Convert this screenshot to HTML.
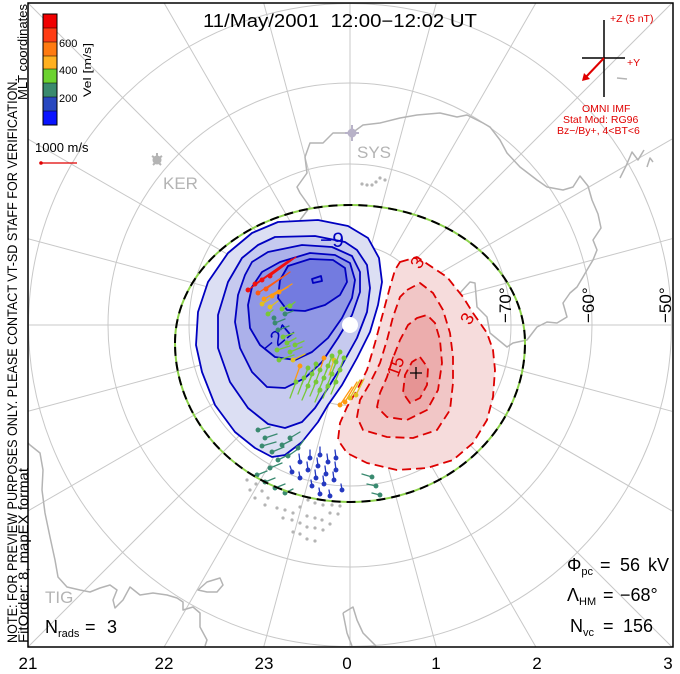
<!DOCTYPE html>
<html><head><meta charset="utf-8"><style>
html,body{margin:0;padding:0;background:#fff;width:680px;height:674px;overflow:hidden;}
svg{display:block;font-family:"Liberation Sans",sans-serif;overflow:hidden;}
</style></head><body>
<svg width="680" height="674" viewBox="0 0 680 674" xmlns="http://www.w3.org/2000/svg">
<defs><clipPath id="fr"><rect x="28" y="3" width="645" height="644"/></clipPath></defs>
<rect width="680" height="674" fill="#fff"/>
<g clip-path="url(#fr)">
<!-- grid -->
<g fill="none" stroke="#c8c8c8" stroke-width="1">
<circle cx="350" cy="325" r="80.5"/><circle cx="350" cy="325" r="161"/><circle cx="350" cy="325" r="242"/><circle cx="350" cy="325" r="321.5"/>
<path d="M350,405.5L350,647M350,244.5L350,3M430.5,325L672,325M269.5,325L28,325
M370.8,402.8L436.3,647M390.3,394.7L535.9,647M406.9,381.9L672,647M419.7,365.3L672,510.9M427.8,345.8L672,411.3
M329.2,402.8L263.7,647M309.7,394.7L164.1,647M293.1,381.9L28,647M280.3,365.3L28,510.9M272.2,345.8L28,411.3
M370.8,247.2L436.3,3M390.3,255.3L535.9,3M406.9,268.1L672,3M419.7,284.7L672,139.1M427.8,304.2L672,238.7
M329.2,247.2L263.7,3M309.7,255.3L164.1,3M293.1,268.1L28,3M280.3,284.7L28,139.1M272.2,304.2L28,238.7"/>
</g>
<!-- coastlines -->
<g fill="none" stroke="#b4b4b4" stroke-width="1.5" stroke-linejoin="round">
<path d="M300,220L310,207L300,193L297,187L307,173L305,157L310,143L323,143L333,133L352,133L363,125L380,123L400,118L417,115L440,113L457,117L467,115L483,123L490,127L500,140L507,153L520,167L537,180L547,187L563,190L573,187L580,176L588,186L592,200L598,214L601,228L593,240L597,250L593,260L587,270L583,277L577,287L570,293L563,303L567,317L557,323L547,322L537,327L527,340L513,343L507,347L490,333L487,317L477,307L475,283L470,282L460,293L452,300"/>
<path d="M620,178L626,166L632,152L638,160L644,150"/><path d="M647,167L650,158L653,162"/><path d="M617,78L627,79"/>
<path d="M28,443L30,445L40,453L43,470L42,490L45,513L50,537L55,560L58,577L67,587L80,590L90,592L100,588L110,585L117,590L113,600L115,608L123,600L130,587L140,595L153,593L167,595L177,598L183,602L183,610L193,607L200,613L200,627L207,640L205,646"/>
<path d="M198,590L207,582L220,578L223,585L217,592L207,592Z"/>
<path d="M343,613L353,607L357,620L363,633L373,643L376,646M343,613L347,633L352,646"/>
</g>
<!-- stations -->
<g fill="#b4b4b4"><circle cx="157" cy="160" r="4.5"/><path d="M152,156l3,2M162,156l-3,2M157,153v4M153,165l3,-3M161,165l-3,-3" stroke="#b4b4b4" stroke-width="2"/></g>
<g fill="#b8b2c8"><circle cx="352" cy="133" r="4.5"/><path d="M352,125v16M345,133h14" stroke="#b8b2c8" stroke-width="2"/></g>
<!-- red cell -->
<polygon fill="#f6dcdc" points="400,262 417,257 447,277 463,297 473,313 487,333 493,350 495,370 493,397 487,420 473,443 453,460 427,468 397,470 367,463 347,453 338,440 340,423 347,407 357,390 367,370 375,343 383,313 390,287 395,270"/>
<polygon fill="#f1c6c6" points="407,290 420,283 433,293 443,310 450,333 453,357 453,383 450,410 437,430 413,438 387,437 363,430 357,417 360,400 370,383 380,363 387,340 393,317 400,297"/>
<polygon fill="#ecadad" points="417,318 427,315 435,323 440,340 442,363 438,390 427,410 407,420 387,417 377,407 380,393 387,377 393,358 400,340 408,325"/>
<polygon fill="#e69494" points="420,357 428,368 427,385 420,398 410,403 403,393 405,375 412,362"/>
<g fill="none" stroke="#dd0000" stroke-width="1.8" stroke-dasharray="9,5" stroke-linejoin="round">
<polygon points="400,262 417,257 447,277 463,297 473,313 487,333 493,350 495,370 493,397 487,420 473,443 453,460 427,468 397,470 367,463 347,453 338,440 340,423 347,407 357,390 367,370 375,343 383,313 390,287 395,270"/>
<polygon points="407,290 420,283 433,293 443,310 450,333 453,357 453,383 450,410 437,430 413,438 387,437 363,430 357,417 360,400 370,383 380,363 387,340 393,317 400,297"/>
<polygon points="417,318 427,315 435,323 440,340 442,363 438,390 427,410 407,420 387,417 377,407 380,393 387,377 393,358 400,340 408,325"/>
<polygon points="420,357 428,368 427,385 420,398 410,403 403,393 405,375 412,362"/>
</g>
<g fill="#dd0000" font-size="18">
<text transform="translate(420,270) rotate(-60)">3</text>
<text transform="translate(470,326) rotate(-60)">3</text>
<text transform="translate(398,378) rotate(-70)">15</text>
</g>
<path d="M410,373h12M416,367v12" stroke="#000" stroke-width="1.3"/>
<!-- blue cell -->
<polygon fill="#dcdff3" points="278,222 318,220 348,226 368,238 379,258 382,282 378,305 370,332 357,358 342,385 328,405 318,422 302,442 285,455 272,457 255,448 235,432 215,405 202,372 196,345 198,312 208,282 228,253 252,233"/>
<polygon fill="#c6caef" points="258,245 275,237 315,236 345,242 357,250 367,265 370,288 367,312 357,338 342,365 328,388 315,408 302,422 285,428 268,424 248,408 230,382 218,348 218,315 228,282 242,258"/>
<polygon fill="#acb1ea" points="252,262 268,252 302,245 332,247 352,256 360,272 360,292 352,315 338,338 322,362 305,378 285,388 267,387 252,372 240,348 235,322 238,295 245,275"/>
<polygon fill="#9097e5" points="262,272 280,262 310,253 335,255 350,263 355,280 352,298 342,318 328,338 312,352 295,360 275,357 260,345 250,328 248,305 252,287"/>
<polygon fill="#737be0" points="288,266 310,259 333,260 345,268 347,282 340,295 325,305 305,311 287,310 278,298 280,280"/>
<g fill="none" stroke="#0000c0" stroke-width="1.8" stroke-linejoin="round">
<polygon points="278,222 318,220 348,226 368,238 379,258 382,282 378,305 370,332 357,358 342,385 328,405 318,422 302,442 285,455 272,457 255,448 235,432 215,405 202,372 196,345 198,312 208,282 228,253 252,233"/>
<polygon points="258,245 275,237 315,236 345,242 357,250 367,265 370,288 367,312 357,338 342,365 328,388 315,408 302,422 285,428 268,424 248,408 230,382 218,348 218,315 228,282 242,258"/>
<polygon points="252,262 268,252 302,245 332,247 352,256 360,272 360,292 352,315 338,338 322,362 305,378 285,388 267,387 252,372 240,348 235,322 238,295 245,275"/>
<polygon points="262,272 280,262 310,253 335,255 350,263 355,280 352,298 342,318 328,338 312,352 295,360 275,357 260,345 250,328 248,305 252,287"/>
<polygon points="288,266 310,259 333,260 345,268 347,282 340,295 325,305 305,311 287,310 278,298 280,280"/>
<path d="M312,279l9,-3l1,5l-9,2z"/>
</g>
<g fill="#0000c0" font-size="21">
<text x="320" y="247">−9</text>
<text transform="translate(268,355) rotate(-40)">−21</text>
</g>
<circle cx="350" cy="325" r="8" fill="#fff"/>
<!-- gray dots -->
<g fill="#b4b4b4">
<circle cx="247" cy="480" r="1.6"/><circle cx="256" cy="484" r="1.6"/><circle cx="250" cy="490" r="1.6"/><circle cx="262" cy="491" r="1.6"/><circle cx="255" cy="498" r="1.6"/><circle cx="268" cy="498" r="1.6"/>
<circle cx="265" cy="505" r="1.6"/><circle cx="277" cy="508" r="1.6"/><circle cx="285" cy="510" r="1.6"/><circle cx="293" cy="513" r="1.6"/><circle cx="300" cy="507" r="1.6"/><circle cx="308" cy="500" r="1.6"/><circle cx="315" cy="503" r="1.6"/><circle cx="323" cy="505" r="1.6"/><circle cx="332" cy="505" r="1.6"/><circle cx="340" cy="506" r="1.6"/>
<circle cx="283" cy="518" r="1.6"/><circle cx="292" cy="520" r="1.6"/><circle cx="300" cy="523" r="1.6"/><circle cx="307" cy="516" r="1.6"/><circle cx="315" cy="518" r="1.6"/><circle cx="322" cy="520" r="1.6"/><circle cx="330" cy="513" r="1.6"/><circle cx="338" cy="514" r="1.6"/>
<circle cx="293" cy="532" r="1.6"/><circle cx="300" cy="534" r="1.6"/><circle cx="307" cy="527" r="1.6"/><circle cx="315" cy="528" r="1.6"/><circle cx="323" cy="530" r="1.6"/><circle cx="307" cy="539" r="1.6"/><circle cx="315" cy="541" r="1.6"/><circle cx="330" cy="524" r="1.6"/>
<circle cx="362" cy="184" r="1.6"/><circle cx="367" cy="185" r="1.6"/><circle cx="372" cy="185" r="1.6"/><circle cx="376" cy="182" r="1.6"/><circle cx="380" cy="178" r="1.6"/><circle cx="385" cy="180" r="1.6"/>
</g>
<!-- vectors -->
<g stroke-width="1.3" stroke-linecap="round">
<g stroke="#f01010" fill="#f01010"><path d="M248,290l34,-24M255,284l33,-23M262,280l30,-21M270,276l26,-19"/><circle cx="248" cy="290" r="1.8"/><circle cx="255" cy="284" r="1.8"/><circle cx="262" cy="280" r="1.8"/><circle cx="270" cy="276" r="1.8"/></g>
<g stroke="#ff5a10" fill="#ff5a10"><path d="M258,293l26,-17M266,289l24,-17"/><circle cx="258" cy="293" r="1.8"/><circle cx="266" cy="289" r="1.8"/></g>
<g stroke="#ff9a10" fill="#ff9a10"><path d="M264,299l16,-9M272,296l16,-9M279,292l13,-8M340,405l12,-18M345,402l12,-20M300,366l-5,14M324,358l-5,15"/><circle cx="264" cy="299" r="1.8"/><circle cx="272" cy="296" r="1.8"/><circle cx="279" cy="292" r="1.8"/><circle cx="340" cy="405" r="1.8"/><circle cx="345" cy="402" r="1.8"/><circle cx="300" cy="366" r="1.8"/><circle cx="324" cy="358" r="1.8"/></g>
<g stroke="#e0c020" fill="#e0c020"><path d="M262,304l8,-5M270,307l8,-6M293,360l12,-6M350,398l10,-18M356,395l8,-16M334,360l-5,15"/><circle cx="262" cy="304" r="1.8"/><circle cx="270" cy="307" r="1.8"/><circle cx="293" cy="360" r="1.8"/><circle cx="350" cy="398" r="1.8"/><circle cx="356" cy="395" r="1.8"/><circle cx="334" cy="360" r="1.8"/></g>
<g stroke="#78c838" fill="#78c838">
<path d="M268,314l5,-4M282,309l8,-5M290,306l5,-4M283,337l11,-4M287,343l9,-5M277,350l13,-4M279,360l15,-5M290,352l12,-5M295,345l9,-4
M308,368l-6,16M316,364l-6,16M332,356l-6,16M340,352l-6,16M296,382l-6,16M304,378l-6,16M312,374l-6,16M320,370l-6,16M328,366l-6,16M336,362l-6,16M344,358l-6,16M308,386l-6,14M316,382l-6,14M324,378l-6,14M332,374l-6,14M340,370l-6,14M320,390l-5,12M328,386l-5,12M336,382l-5,12"/>
<circle cx="268" cy="314" r="1.8"/><circle cx="282" cy="309" r="1.8"/><circle cx="290" cy="306" r="1.8"/><circle cx="283" cy="337" r="1.8"/><circle cx="287" cy="343" r="1.8"/><circle cx="277" cy="350" r="1.8"/><circle cx="279" cy="360" r="1.8"/><circle cx="290" cy="352" r="1.8"/><circle cx="295" cy="345" r="1.8"/>
<circle cx="308" cy="368" r="1.8"/><circle cx="316" cy="364" r="1.8"/><circle cx="332" cy="356" r="1.8"/><circle cx="340" cy="352" r="1.8"/><circle cx="296" cy="382" r="1.8"/><circle cx="304" cy="378" r="1.8"/><circle cx="312" cy="374" r="1.8"/><circle cx="320" cy="370" r="1.8"/><circle cx="328" cy="366" r="1.8"/><circle cx="336" cy="362" r="1.8"/><circle cx="344" cy="358" r="1.8"/><circle cx="308" cy="386" r="1.8"/><circle cx="316" cy="382" r="1.8"/><circle cx="324" cy="378" r="1.8"/><circle cx="332" cy="374" r="1.8"/><circle cx="340" cy="370" r="1.8"/><circle cx="320" cy="390" r="1.8"/><circle cx="328" cy="386" r="1.8"/><circle cx="336" cy="382" r="1.8"/>
</g>
<g stroke="#3a8a70" fill="#3a8a70">
<path d="M285,314l8,-3M275,323l10,-4M278,330l11,-4M258,430l12,-3M265,438l12,-4M262,446l14,-4M272,452l12,-5M282,445l10,-5M290,438l10,-6M278,460l12,-6M270,468l12,-5M288,456l10,-7M298,448l6,-8M257,475l10,-4M265,482l10,-4M275,488l10,-4M285,493l8,-4M372,477l-10,-3M376,486l-9,-2M380,495l-8,-2"/>
<circle cx="274" cy="318" r="1.8"/><circle cx="285" cy="314" r="1.8"/><circle cx="275" cy="323" r="1.8"/><circle cx="278" cy="330" r="1.8"/><circle cx="258" cy="430" r="1.8"/><circle cx="265" cy="438" r="1.8"/><circle cx="262" cy="446" r="1.8"/><circle cx="272" cy="452" r="1.8"/><circle cx="282" cy="445" r="1.8"/><circle cx="290" cy="438" r="1.8"/><circle cx="278" cy="460" r="1.8"/><circle cx="270" cy="468" r="1.8"/><circle cx="288" cy="456" r="1.8"/><circle cx="298" cy="448" r="1.8"/><circle cx="257" cy="475" r="1.8"/><circle cx="265" cy="482" r="1.8"/><circle cx="275" cy="488" r="1.8"/><circle cx="285" cy="493" r="1.8"/><circle cx="372" cy="477" r="1.8"/><circle cx="376" cy="486" r="1.8"/><circle cx="380" cy="495" r="1.8"/>
</g>
<g stroke="#2438c0" fill="#2438c0">
<path d="M300,462l-1,-8M308,470l-1,-8M316,478l-1,-8M324,484l-1,-8M310,458l0,-8M318,466l-1,-8M326,474l-1,-8M334,480l-1,-8M320,455l0,-8M328,462l-1,-8M336,470l-1,-8M342,490l-1,-6M312,486l-1,-6M320,494l-1,-6M330,496l-1,-6M336,458l-1,-8M300,478l-1,-6M292,472l-2,-6"/>
<circle cx="300" cy="462" r="1.8"/><circle cx="308" cy="470" r="1.8"/><circle cx="316" cy="478" r="1.8"/><circle cx="324" cy="484" r="1.8"/><circle cx="310" cy="458" r="1.8"/><circle cx="318" cy="466" r="1.8"/><circle cx="326" cy="474" r="1.8"/><circle cx="334" cy="480" r="1.8"/><circle cx="320" cy="455" r="1.8"/><circle cx="328" cy="462" r="1.8"/><circle cx="336" cy="470" r="1.8"/><circle cx="342" cy="490" r="1.8"/><circle cx="312" cy="486" r="1.8"/><circle cx="320" cy="494" r="1.8"/><circle cx="330" cy="496" r="1.8"/><circle cx="336" cy="458" r="1.8"/><circle cx="300" cy="478" r="1.8"/><circle cx="292" cy="472" r="1.8"/>
</g>
</g>
<!-- HM boundary -->
<path d="M175,343A175,138 0 0 1 525,343A175,159 0 0 1 175,343" fill="none" stroke="#8cd24a" stroke-width="2"/>
<path d="M175,343A175,138 0 0 1 525,343A175,159 0 0 1 175,343" fill="none" stroke="#000" stroke-width="2" stroke-dasharray="9,6"/>
<!-- lat labels -->
<g font-size="17" fill="#000">
<text transform="translate(511,323) rotate(-90)">−70°</text>
<text transform="translate(594,323) rotate(-90)">−60°</text>
<text transform="translate(671,323) rotate(-90)">−50°</text>
</g>
<!-- station labels -->
<g font-size="17" fill="#b4b4b4">
<text x="163" y="189">KER</text><text x="357" y="158">SYS</text><text x="45" y="603">TIG</text>
</g>
<!-- IMF -->
<path d="M604,20V97M582,58H625" stroke="#000" stroke-width="1.5"/>
<path d="M604,58L585,78" stroke="#e00000" stroke-width="2"/>
<path d="M582,81L584,73L590,79Z" fill="#e00000"/>
<g fill="#e00000" font-size="10.5">
<text x="610" y="22">+Z (5 nT)</text>
<text x="627" y="66">+Y</text>
<text x="582" y="112">OMNI IMF</text>
<text x="563" y="123">Stat Mod: RG96</text>
<text x="557" y="134">Bz−/By+, 4&lt;BT&lt;6</text>
</g>
</g>
<!-- frame -->
<rect x="28" y="3" width="645" height="644" fill="none" stroke="#000" stroke-width="1.5"/>
<!-- colorbar -->
<rect x="43" y="14" width="14" height="14" fill="#f00000"/>
<rect x="43" y="28" width="14" height="14" fill="#ff3c14"/>
<rect x="43" y="42" width="14" height="14" fill="#ff7a10"/>
<rect x="43" y="56" width="14" height="13" fill="#ffb020"/>
<rect x="43" y="69" width="14" height="14" fill="#6cd230"/>
<rect x="43" y="83" width="14" height="14" fill="#3a8a6e"/>
<rect x="43" y="97" width="14" height="14" fill="#2848c0"/>
<rect x="43" y="111" width="14" height="14" fill="#0a14ff"/>
<rect x="43" y="14" width="14" height="111" fill="none" stroke="#000" stroke-width="1"/>
<path d="M43,28h14M43,42h14M43,56h14M43,69h14M43,83h14M43,97h14M43,111h14" stroke="#000" stroke-width="0.6"/>
<g font-size="11" fill="#000"><text x="59" y="47">600</text><text x="59" y="74">400</text><text x="59" y="102">200</text>
<text transform="translate(91,97) rotate(-90)" textLength="54" lengthAdjust="spacingAndGlyphs">Vel [m/s]</text></g>
<text x="35" y="152" font-size="13" fill="#000">1000 m/s</text>
<path d="M41,163H77" stroke="#e00000" stroke-width="1.2"/><circle cx="41" cy="163" r="1.8" fill="#e00000"/>
<!-- title -->
<text x="203" y="27" font-size="18" fill="#000" textLength="274" lengthAdjust="spacingAndGlyphs" style="white-space:pre">11/May/2001  12:00−12:02 UT</text>
<!-- side text -->
<g fill="#000">
<text transform="translate(17,643) rotate(-90)" font-size="14" textLength="565" lengthAdjust="spacingAndGlyphs">NOTE: FOR PREVIEW PURPOSES ONLY. PLEASE CONTACT VT-SD STAFF FOR VERIFICATION.</text>
<text transform="translate(28,643) rotate(-90)" font-size="14" textLength="175" lengthAdjust="spacingAndGlyphs">FitOrder: 8, mapEX format</text>
<text transform="translate(27,100) rotate(-90)" textLength="96" lengthAdjust="spacingAndGlyphs" font-size="13">MLT coordinates</text>
</g>
<!-- stats -->
<g font-size="18" fill="#000">
<text x="45" y="633">N<tspan font-size="11" dy="4">rads</tspan></text><text x="85" y="633">=</text><text x="107" y="633">3</text>
<text x="567" y="571">Φ<tspan font-size="11" dy="4">pc</tspan></text><text x="600" y="571">=</text><text x="620" y="571">56</text><text x="648" y="571">kV</text>
<text x="567" y="601">Λ<tspan font-size="11" dy="4">HM</tspan></text><text x="603" y="601">=</text><text x="620" y="601">−68°</text>
<text x="570" y="632">N<tspan font-size="11" dy="4">vc</tspan></text><text x="603" y="632">=</text><text x="623" y="632">156</text>
</g>
<!-- MLT labels -->
<g font-size="17" fill="#000" text-anchor="middle">
<text x="28" y="669">21</text><text x="164" y="669">22</text><text x="264" y="669">23</text><text x="347" y="669">0</text><text x="436" y="669">1</text><text x="537" y="669">2</text><text x="668" y="669">3</text>
</g>
</svg>
</body></html>
